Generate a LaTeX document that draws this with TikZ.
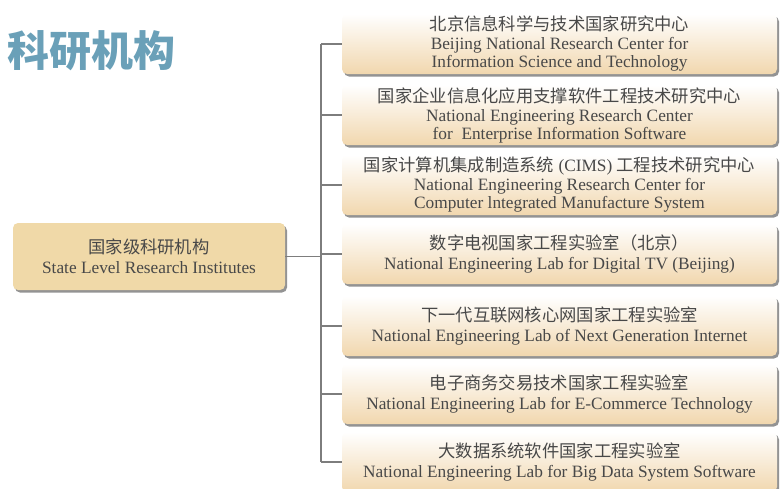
\documentclass[tikz,border=0pt]{standalone}
\usepackage{fontspec}
\setmainfont{Liberation Serif}
\newfontfamily\cjk{Noto Sans CJK SC}
\usetikzlibrary{shadows}
\definecolor{titleblue}{RGB}{106,160,184}
\definecolor{labtan}{RGB}{241,215,174}
\definecolor{roottan}{RGB}{240,217,168}
\definecolor{textgray}{RGB}{72,72,72}
\definecolor{linegray}{RGB}{125,125,125}
\newcommand\zh[1]{{\cjk\fontsize{17.3}{19}\selectfont #1}}

\begin{document}
\begin{tikzpicture}[x=1pt, y=-1pt,
  every node/.style={outer sep=0pt, inner sep=0pt, text=textgray, align=center},
  lab/.style={rounded corners=5pt, top color=white, bottom color=labtan,
    minimum width=435pt, minimum height=60pt, font=\fontsize{17.3}{18}\selectfont,
    drop shadow={shadow xshift=2pt, shadow yshift=-2.5pt, fill=gray!85, opacity=1}},
  rootbox/.style={rounded corners=5pt, fill=roottan, minimum width=272pt, minimum height=67pt,
    font=\fontsize{17.3}{20}\selectfont,
    drop shadow={shadow xshift=2pt, shadow yshift=-2.5pt, fill=gray!85, opacity=1}},
  wire/.style={draw=linegray, line width=1.1pt}]
\useasboundingbox (0,0) rectangle (780,488);

\node[text=titleblue, font=\cjk\bfseries\fontsize{42}{42}\selectfont] (title) at (92,51) {科研机构};

\node[rootbox] (root) at (149,256.5) {\zh{国家级科研机构}\\State Level Research Institutes};

\node[lab] (b1) at (559.5,44) {\zh{北京信息科学与技术国家研究中心}\\[1pt]Beijing National Research Center for\\Information Science and Technology};
\node[lab] (b2) at (559.5,115) {\zh{国家企业信息化应用支撑软件工程技术研究中心}\\[1pt]National Engineering Research Center\\for~ Enterprise Information Software};
\node[lab] (b3) at (559.5,185) {\zh{国家计算机集成制造系统} (CIMS) \zh{工程技术研究中心}\\[1pt]National Engineering Research Center for\\Computer lntegrated Manufacture System};
\node[lab] (b4) at (559.5,254) {\zh{数字电视国家工程实验室（北京）}\\[2pt]National Engineering Lab for Digital TV (Beijing)};
\node[lab] (b5) at (559.5,326) {\zh{下一代互联网核心网国家工程实验室}\\[2pt]National Engineering Lab of Next Generation Internet};
\node[lab] (b6) at (559.5,394) {\zh{电子商务交易技术国家工程实验室}\\[2pt]National Engineering Lab for E-Commerce Technology};
\node[lab] (b7) at (559.5,462) {\zh{大数据系统软件国家工程实验室}\\[2pt]National Engineering Lab for Big Data System Software};

\coordinate (trunk) at (321,0);
\draw[wire] (trunk |- b1.west) -- (trunk |- b7.west);
\draw[wire] (root.east) -- (root.east -| trunk);
\foreach \n in {1,...,7}
  \draw[wire] (trunk |- b\n.west) -- (b\n.west);
\end{tikzpicture}
\end{document}
